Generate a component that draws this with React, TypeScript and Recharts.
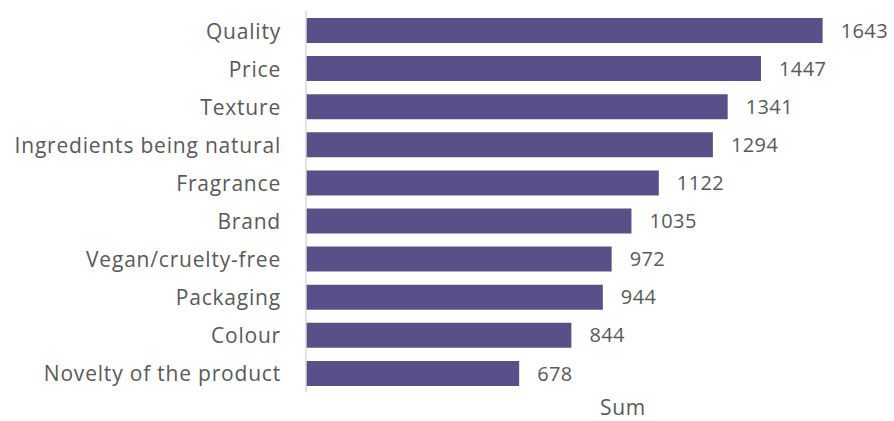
import React from 'react';
import { BarChart, Bar, XAxis, YAxis, LabelList } from 'recharts';

const categories = [
  'Quality',
  'Price',
  'Texture',
  'Ingredients being natural',
  'Fragrance',
  'Brand',
  'Vegan/cruelty-free',
  'Packaging',
  'Colour',
  'Novelty of the product',
];
const sums = [1643, 1447, 1341, 1294, 1122, 1035, 972, 944, 844, 678];

const data = categories.map((name, i) => ({ name, sum: sums[i] }));

const font = '"Open Sans", "Noto Sans", sans-serif';
const textColor = '#595959';

export default function App() {
  return (
    <div style={{ position: 'absolute', left: 0, top: 0, width: 894, height: 421, background: '#fff' }}>
      <BarChart
        width={894}
        height={421}
        data={data}
        layout="vertical"
        margin={{ top: 11, right: 22, bottom: 0, left: 0 }}
      >
        <XAxis
          type="number"
          domain={[0, 1800]}
          axisLine={false}
          tickLine={false}
          tick={false}
          height={29}
          label={{
            value: 'Sum',
            position: 'insideBottom',
            offset: 6,
            dx: 34,
            fill: textColor,
            fontSize: 21,
            fontFamily: font,
            letterSpacing: 0.8,
          }}
        />
        <YAxis
          type="category"
          dataKey="name"
          width={306}
          tickLine={false}
          tickMargin={19}
          axisLine={{ stroke: '#d9d9d9', strokeWidth: 1.5 }}
          interval={0}
          tick={{ fill: textColor, fontSize: 21, fontFamily: font, letterSpacing: 0.8, dy: 1 }}
        />
        <Bar dataKey="sum" fill="#5a5089" barSize={25} isAnimationActive={false}>
          <LabelList
            dataKey="sum"
            position="right"
            offset={18}
            fill={textColor}
            fontSize={20}
            fontFamily={font}
            letterSpacing={0.4}
          />
        </Bar>
      </BarChart>
    </div>
  );
}
